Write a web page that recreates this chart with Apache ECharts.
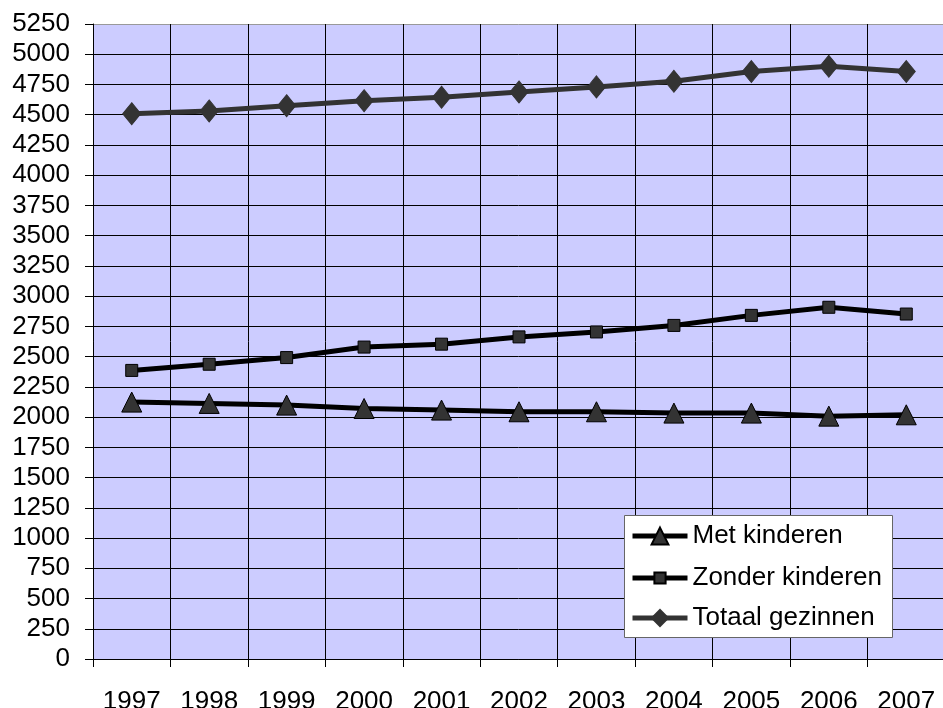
<!DOCTYPE html>
<html>
<head>
<meta charset="utf-8">
<script src="https://cdn.jsdelivr.net/npm/echarts@6/dist/echarts.min.js"></script>
<style>
html,body{margin:0;padding:0;background:#fff;}
#chart{width:943px;height:708px;}
</style>
</head>
<body>
<div id="chart"></div>
<script>
var years = ['1997','1998','1999','2000','2001','2002','2003','2004','2005','2006','2007'];
var metKinderen = [2124, 2113, 2099, 2071, 2058, 2044, 2044, 2033, 2033, 2008, 2019];
var zonderKinderen = [2386, 2437, 2492, 2579, 2603, 2663, 2704, 2758, 2841, 2908, 2852];
var totaalGezinnen = [4508, 4531, 4574, 4616, 4645, 4688, 4730, 4776, 4857, 4900, 4857];
var seriesNames = ['Met kinderen', 'Zonder kinderen', 'Totaal gezinnen'];

var FONT = '"Liberation Sans", Arial, sans-serif';
var splitColors = [];
for (var i = 0; i < 21; i++) splitColors.push('#000');
splitColors.push('#999');

var chart = echarts.init(document.getElementById('chart'), null, {renderer: 'canvas'});

function legendFor(name, top, h, lineColor) {
  return {
    data: [{name: name, lineStyle: {width: 5, color: lineColor}}],
    left: 630,
    top: top,
    orient: 'vertical',
    padding: 0,
    itemWidth: 55,
    itemHeight: h,
    itemGap: 0,
    lineStyle: {width: 5},
    textStyle: {fontFamily: FONT, fontSize: 26, color: '#000', padding: [0,0,0,0]},
    selectedMode: false,
    z: 10
  };
}

chart.setOption({
  animation: false,
  backgroundColor: '#fff',
  textStyle: {fontFamily: FONT},
  grid: {left: 93, top: 24, width: 852, height: 635, backgroundColor: '#ccccff', show: true, borderWidth: 0, outerBoundsMode: 'none', containLabel: false},
  graphic: [{
    type: 'rect',
    shape: {x: 624.5, y: 515.5, width: 268, height: 122},
    style: {fill: '#fff', stroke: '#666', lineWidth: 1},
    z: 5
  }],
  legend: [
    legendFor(seriesNames[0], 523, 21, '#000'),
    legendFor(seriesNames[1], 565, 14, '#000'),
    legendFor(seriesNames[2], 605, 20, '#333')
  ],
  xAxis: {
    type: 'category',
    data: years,
    boundaryGap: true,
    axisLine: {show: true, lineStyle: {color: '#000', width: 1}},
    axisTick: {show: true, length: 8, lineStyle: {color: '#000'}},
    axisLabel: {fontFamily: FONT, fontSize: 26, color: '#000', margin: 30},
    splitLine: {show: true, lineStyle: {color: '#000', width: 1}}
  },
  yAxis: {
    type: 'value',
    min: 0,
    max: 5250,
    interval: 250,
    axisLine: {show: true, lineStyle: {color: '#000', width: 1}},
    axisTick: {show: true, length: 8, lineStyle: {color: '#000'}},
    axisLabel: {fontFamily: FONT, fontSize: 26, color: '#000', margin: 23, formatter: function (v) { return String(v); }},
    splitLine: {show: true, lineStyle: {color: splitColors, width: 1}}
  },
  series: [
    {
      name: seriesNames[0],
      type: 'line',
      data: metKinderen,
      symbol: 'triangle',
      symbolSize: [20, 20],
      lineStyle: {color: '#000', width: 5},
      itemStyle: {color: '#333', borderColor: '#000', borderWidth: 1},
      z: 3
    },
    {
      name: seriesNames[1],
      type: 'line',
      data: zonderKinderen,
      symbol: 'rect',
      symbolSize: [12, 12],
      lineStyle: {color: '#000', width: 5},
      itemStyle: {color: '#333', borderColor: '#000', borderWidth: 1},
      z: 3
    },
    {
      name: seriesNames[2],
      type: 'line',
      data: totaalGezinnen,
      symbol: 'diamond',
      symbolSize: [18, 22],
      lineStyle: {color: '#333', width: 5},
      itemStyle: {color: '#333', borderColor: '#333', borderWidth: 1},
      z: 3
    }
  ]
});
</script>
</body>
</html>
